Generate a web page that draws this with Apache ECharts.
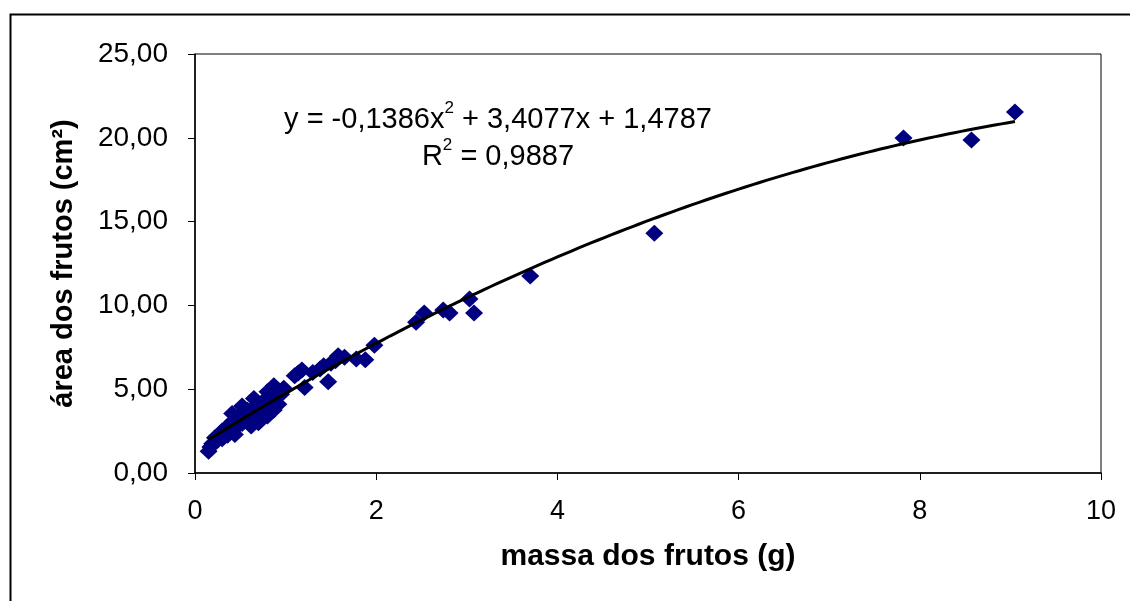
<!DOCTYPE html>
<html>
<head>
<meta charset="utf-8">
<script src="https://cdn.jsdelivr.net/npm/echarts@6/dist/echarts.min.js"></script>
<style>
html,body{margin:0;padding:0;background:#fff;}
#chart{width:1130px;height:601px;}
</style>
</head>
<body>
<div id="chart"></div>
<script>
// massa dos frutos (g)
const massa = [
  0.15,0.17,0.19,0.22,0.25,0.27,0.30,0.30,0.33,0.35,0.36,0.38,0.40,0.42,0.42,0.45,0.46,0.48,0.50,0.52,
  0.53,0.55,0.57,0.58,0.60,0.62,0.64,0.66,0.68,0.70,0.72,0.74,0.76,0.78,0.80,0.82,0.85,0.87,0.88,0.90,
  0.92,0.95,0.98,1.10,1.14,1.18,1.21,1.30,1.38,1.42,1.47,1.50,1.55,1.58,1.65,1.78,1.88,1.98,2.44,2.53,
  2.74,2.81,3.03,3.08,3.70,5.07,7.82,8.57,9.05,
  0.41,0.52,0.65,0.80,0.87,0.44,0.62,0.70,0.80
];
// área dos frutos (cm²)
const area = [
  1.30,1.55,1.75,2.10,1.95,2.30,2.05,2.50,2.40,2.75,2.25,2.60,2.90,3.10,2.55,2.85,3.30,3.05,3.45,2.95,
  3.20,3.60,3.35,3.75,3.15,3.55,3.85,3.45,4.00,3.30,4.10,3.70,4.30,3.95,4.50,4.20,4.70,3.76,4.40,4.95,
  4.10,4.70,5.05,5.80,5.97,6.15,5.10,6.00,6.20,6.40,5.45,6.55,6.70,7.00,6.90,6.80,6.75,7.62,9.00,9.55,
  9.73,9.55,10.38,9.55,11.75,14.30,19.99,19.87,21.54,
  3.55,4.00,4.45,4.85,5.20,2.30,2.80,3.00,3.40
];
// polynomial trendline coefficients shown on the chart: a*x^2 + b*x + c
const trendCoefs = [-0.1386, 3.4077, 1.4787];
const trendRange = [0.15, 9.05];
const xTicks = [0, 2, 4, 6, 8, 10];
const yTicks = ['0,00','5,00','10,00','15,00','20,00','25,00'];

const points = massa.map((m, i) => [m, area[i]]);
const trend = [];
const steps = 120;
for (let i = 0; i <= steps; i++) {
  const x = trendRange[0] + (trendRange[1] - trendRange[0]) * i / steps;
  trend.push([x, trendCoefs[0]*x*x + trendCoefs[1]*x + trendCoefs[2]]);
}

const fontFam = '"Liberation Sans", Arial, sans-serif';
const richStyles = {
  n: { fontFamily: fontFam, fontSize: 29, color: '#000', lineHeight: 34, verticalAlign: 'bottom' },
  s: { fontFamily: fontFam, fontSize: 17, color: '#000', lineHeight: 34, verticalAlign: 'top' }
};
const chart = echarts.init(document.getElementById('chart'));
chart.setOption({
  animation: false,
  backgroundColor: '#fff',
  grid: {
    left: 195, right: 29, top: 54, bottom: 128,
    show: true, borderColor: '#000', borderWidth: 1, backgroundColor: 'transparent'
  },
  xAxis: {
    type: 'value', min: 0, max: 10, interval: 2,
    name: 'massa dos frutos (g)', nameLocation: 'middle', nameGap: 69,
    nameTextStyle: { fontFamily: fontFam, fontWeight: 'bold', fontSize: 30, color: '#000' },
    axisLine: { show: true, onZero: false, lineStyle: { color: '#000', width: 1.5 } },
    axisTick: { show: true, inside: false, length: 7, lineStyle: { color: '#000', width: 1 } },
    axisLabel: { margin: 25, fontFamily: fontFam, fontSize: 27, color: '#000',
      formatter: v => String(xTicks[Math.round(v/2)]) },
    splitLine: { show: false }
  },
  yAxis: {
    type: 'value', min: 0, max: 25, interval: 5,
    name: 'área dos frutos (cm²)', nameLocation: 'middle', nameGap: 117, nameRotate: 90,
    nameTextStyle: { fontFamily: fontFam, fontWeight: 'bold', fontSize: 29, color: '#000' },
    axisLine: { show: true, onZero: false, lineStyle: { color: '#000', width: 1.5 } },
    axisTick: { show: true, inside: false, length: 7, lineStyle: { color: '#000', width: 1 } },
    axisLabel: { margin: 27, fontFamily: fontFam, fontSize: 28, color: '#000',
      formatter: v => yTicks[Math.round(v/5)] },
    splitLine: { show: false }
  },
  graphic: [
    { type: 'rect', left: 8, top: 12, silent: true,
      shape: { width: 1200, height: 700 },
      style: { fill: 'none', stroke: '#000', lineWidth: 2 } },
    { type: 'text', x: 498, y: 117, silent: true,
      style: {
        text: '{n|y = -0,1386x}{s|2}{n| + 3,4077x + 1,4787}',
        align: 'center', verticalAlign: 'middle',
        rich: richStyles
      } },
    { type: 'text', x: 498, y: 154, silent: true,
      style: {
        text: '{n|R}{s|2}{n| = 0,9887}',
        align: 'center', verticalAlign: 'middle',
        rich: richStyles
      } }
  ],
  series: [
    { type: 'scatter', data: points, symbol: 'diamond', symbolSize: [18, 17],
      itemStyle: { color: '#000080', opacity: 1 }, z: 2 },
    { type: 'line', data: trend, showSymbol: false, smooth: false,
      lineStyle: { color: '#000', width: 3 }, z: 3 }
  ]
});
</script>
</body>
</html>
